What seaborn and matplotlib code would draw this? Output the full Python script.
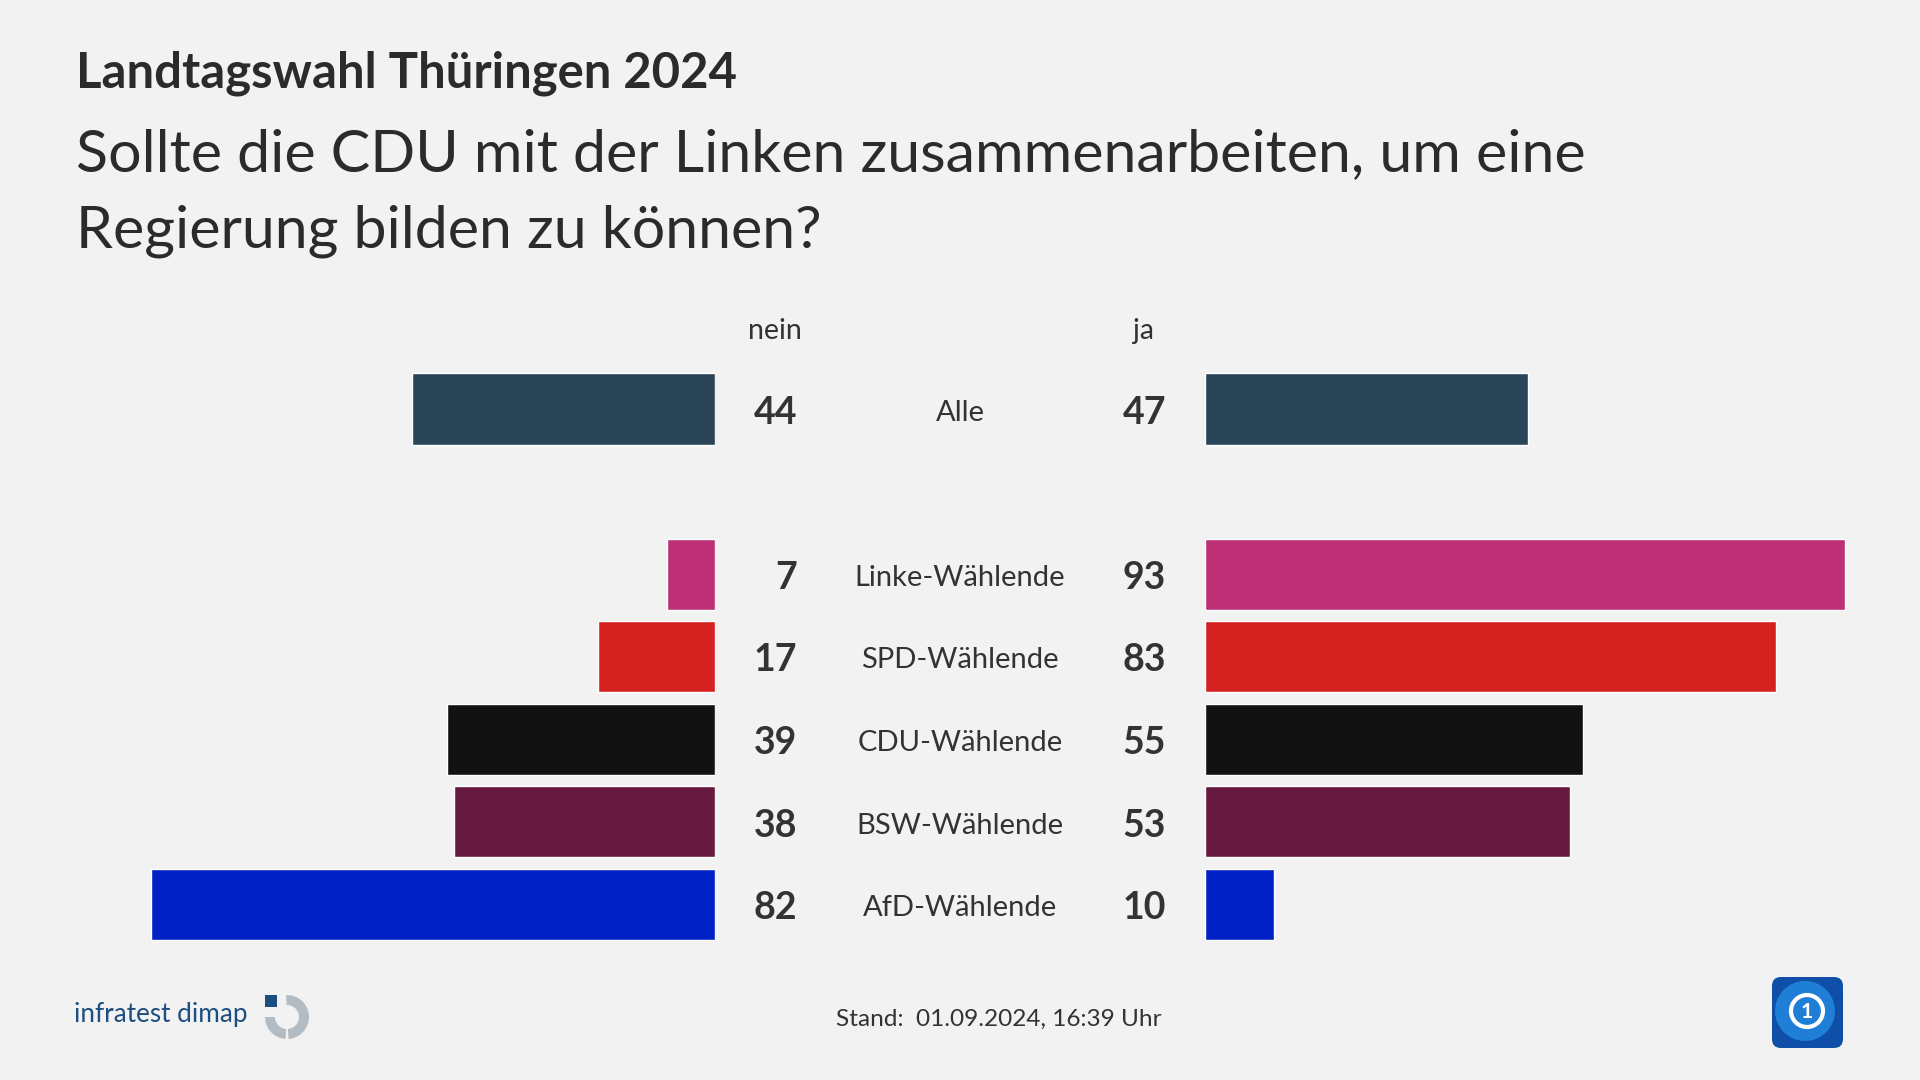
import matplotlib
matplotlib.use("Agg")
import matplotlib.pyplot as plt
import matplotlib.transforms as mtransforms
from matplotlib.patches import FancyBboxPatch, Wedge, Rectangle, Circle
import seaborn as sns
import pandas as pd

# ---------------- data ----------------
groups = ["Alle", "Linke-Wählende", "SPD-Wählende", "CDU-Wählende", "BSW-Wählende", "AfD-Wählende"]
nein = [44, 7, 17, 39, 38, 82]
ja = [47, 93, 83, 55, 53, 10]
colors = ["#2a4557", "#bd3075", "#d52120", "#121212", "#661a40", "#0021c6"]
spacer = " "
row_order = [groups[0], spacer] + groups[1:]

title = "Landtagswahl Thüringen 2024"
subtitle_lines = ["Sollte die CDU mit der Linken zusammenarbeiten, um eine",
                  "Regierung bilden zu können?"]
header_left = "nein"
header_right = "ja"
footer = "Stand:  01.09.2024, 16:39 Uhr"
source = "infratest dimap"

df = pd.DataFrame({"group": groups, "nein": nein, "ja": ja})
palette = dict(zip(groups, colors))

# ---------------- style ----------------
BG = "#f2f2f2"
TXT = "#333333"
sns.set_theme(style="white")
plt.rcParams["font.family"] = ["Lato", "DejaVu Sans"]

W, H = 1920, 1080
fig = plt.figure(figsize=(19.2, 10.8), dpi=100, facecolor=BG)

def fx(px):
    return px / W

def fy(py):
    return 1 - py / H

pitch = 82.6
top_px = 409 - pitch / 2
bot_px = 904.5 + pitch / 2
ax_b = fy(bot_px)
ax_h = (bot_px - top_px) / H
unit = 6.88  # px per percentage point

axL = fig.add_axes([fx(715 - 100 * unit), ax_b, fx(100 * unit), ax_h])
axR = fig.add_axes([fx(1205), ax_b, fx(100 * unit), ax_h])

for ax, col in ((axL, "nein"), (axR, "ja")):
    sns.barplot(data=df, x=col, y="group", hue="group", order=row_order,
                palette=palette, legend=False, width=0.86, saturation=1,
                orient="h", ax=ax)
    ax.set_facecolor(BG)
    ax.set_ylim(len(row_order) - 0.5, -0.5)
    ax.set_axis_off()

axL.set_xlim(100, 0)
axR.set_xlim(0, 100)

# ---------------- row texts ----------------
tr = mtransforms.blended_transform_factory(fig.transFigure, axL.transData)
dy = 0.045
for g, n, j in zip(groups, nein, ja):
    y = row_order.index(g) + dy
    fig.text(fx(797), y, str(n), transform=tr, ha="right", va="center",
             fontsize=27, fontweight="bold", color=TXT)
    fig.text(fx(1166), y, str(j), transform=tr, ha="right", va="center",
             fontsize=27, fontweight="bold", color=TXT)
    fig.text(fx(960), y, g, transform=tr, ha="center", va="center",
             fontsize=21, color=TXT)

fig.text(fx(775), fy(331), header_left, ha="center", va="center", fontsize=20.5, color=TXT)
fig.text(fx(1143), fy(331), header_right, ha="center", va="center", fontsize=20.5, color=TXT)

# ---------------- titles ----------------
fig.text(fx(76), fy(87), title, ha="left", va="baseline", fontsize=35.3,
         fontweight="bold", color="#2b2b2b")
fig.text(fx(76), fy(171), subtitle_lines[0], ha="left", va="baseline",
         fontsize=42.6, color="#2b2b2b")
fig.text(fx(76), fy(247), subtitle_lines[1], ha="left", va="baseline",
         fontsize=42.6, color="#2b2b2b")

# ---------------- footer ----------------
fig.text(fx(836), fy(1026), footer, ha="left", va="baseline", fontsize=17.6, color=TXT)
fig.text(fx(74), fy(1022), source, ha="left", va="baseline", fontsize=18.8,
         color="#1c4e80")

# overlay axes in pixel coordinates for logos
ov = fig.add_axes([0, 0, 1, 1], facecolor="none")
ov.set_xlim(0, W)
ov.set_ylim(H, 0)
ov.set_axis_off()

# infratest dimap logo mark (approximation); y is inverted, so data angles
# run clockwise on screen (90 = bottom, 270 = top)
lx, ly = 287, 1017
r_out, ring_w = 22, 10
grey = "#b4bcc3"
ov.add_patch(Wedge((lx, ly), r_out, -92, 86, width=ring_w, facecolor=grey,
                   edgecolor="none"))
ov.add_patch(Wedge((lx, ly), r_out, 94, 180, width=ring_w, facecolor=grey,
                   edgecolor="none"))
ov.add_patch(Rectangle((265, 995), 12, 12, facecolor="#1c4e80", edgecolor="none"))

# broadcaster logo (approximation)
ov.add_patch(FancyBboxPatch((1772, 977), 71, 71, boxstyle="round,pad=0,rounding_size=9",
                            facecolor="#0f4fa8", edgecolor="none"))
ov.add_patch(Circle((1805, 1011), 30, facecolor="#1f7fd6", edgecolor="none"))
ov.add_patch(Circle((1807, 1011), 16, facecolor="none", edgecolor="white", linewidth=3))
ov.text(1807, 1012, "1", ha="center", va="center", fontsize=15, fontweight="bold",
        color="white")

fig.savefig("out.png", dpi=100, facecolor=BG)
